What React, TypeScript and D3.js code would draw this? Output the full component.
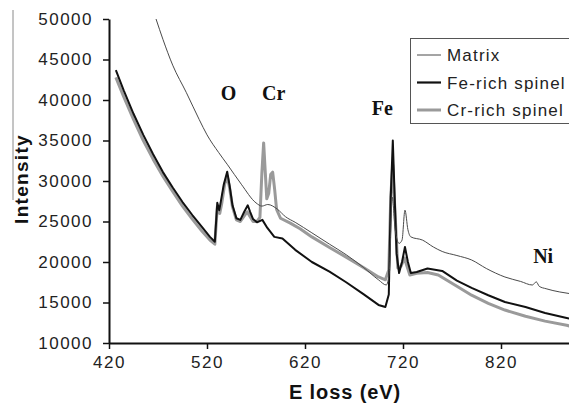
import React, { useEffect, useRef } from "react";
import * as d3 from "d3";

// [E loss (eV), intensity]
const matrix: [number, number][] = [
  [468, 50000], [475, 47500], [485, 44300], [499, 40900], [512, 37600],
  [520, 35700], [532, 33500], [541, 32000], [555, 29600], [570, 27300],
  [576, 26900], [582, 27100], [592, 26500], [600, 25600], [610, 24900],
  [627, 23600], [645, 22200], [662, 20900], [680, 19300], [695, 17800],
  [703, 17160], [706, 18800], [709, 28000], [712, 24000], [716, 22300],
  [719, 22700], [722, 26400], [725, 24000], [728, 23100], [740, 22700],
  [751, 21850], [760, 21300], [775, 20800], [790, 20250], [805, 19200],
  [824, 18150], [840, 17600], [852, 17160], [856, 17550], [859, 17000],
  [866, 16700], [880, 16300], [890, 16100],
];

const feRich: [number, number][] = [
  [427, 43700], [435, 41200], [445, 38300], [455, 35700], [465, 33300],
  [475, 31100], [485, 29200], [495, 27400], [505, 25800], [515, 24300],
  [523, 23100], [528, 22500], [530.5, 27300], [532.5, 26400], [534, 27400],
  [537, 29500], [540.6, 31150], [543, 29500], [546, 27000], [550, 25400],
  [554, 25200], [558, 26200], [561.6, 27000], [564, 26200], [567, 25300],
  [571, 24900], [576.5, 25200], [581.6, 24200], [588.7, 23100], [597, 22900],
  [610, 21500], [627, 20000], [645, 18800], [662, 17500], [680, 16000],
  [695, 14700], [702, 14440], [705.5, 16000], [707.5, 28000], [709.6, 35000],
  [711.5, 28000], [713.5, 21000], [716, 18640], [719, 20000], [722, 21850],
  [725, 20000], [728, 18640], [734, 18770], [745, 19200], [760, 18900],
  [775, 17700], [790, 16800], [807, 15900], [824, 15060], [845, 14440],
  [865, 13700], [887, 13090], [890, 13000],
];

const crRich: [number, number][] = [
  [427, 42800], [435, 40400], [445, 37600], [455, 35000], [465, 32700],
  [475, 30600], [485, 28700], [495, 26900], [505, 25300], [515, 23800],
  [523, 22700], [528, 22200], [530.5, 26800], [533, 26000], [535, 27200],
  [538, 29600], [540.6, 30600], [543, 29200], [546, 26800], [550, 25200],
  [554, 25000], [558, 25700], [561, 26200], [564, 25600], [567, 25000],
  [571, 25000], [574, 25500], [576, 31000], [577.8, 34700], [579.5, 31000],
  [581, 27800], [583, 28500], [585, 30800], [587, 31100], [589, 29000],
  [591, 26500], [595, 25400], [605, 24800], [615, 24100], [627, 23100],
  [645, 21800], [662, 20600], [680, 19300], [695, 18150], [702, 17800],
  [705.5, 19000], [707.5, 28000], [709.5, 32000], [711.5, 27000], [714.7, 19260],
  [718, 19500], [721.5, 20500], [724, 19500], [727, 18400], [734, 18600],
  [745, 18700], [756, 18400], [775, 17000], [790, 15900], [807, 14900],
  [824, 14070], [845, 13300], [865, 12700], [887, 12200], [890, 12100],
];

const xTicks = [420, 520, 620, 720, 820];
const yTicks = [10000, 15000, 20000, 25000, 30000, 35000, 40000, 45000, 50000];

const legendItems = [
  { label: "Matrix", color: "#4a4a4a", width: 1 },
  { label: "Fe-rich spinel", color: "#111", width: 2.2 },
  { label: "Cr-rich spinel", color: "#9a9a9a", width: 3 },
];

const peakLabels = [
  { text: "O", e: 542, i: 40000 },
  { text: "Cr", e: 588, i: 40000 },
  { text: "Fe", e: 699, i: 38150 },
  { text: "Ni", e: 863, i: 19900 },
];

export default function App() {
  const ref = useRef<SVGSVGElement>(null);

  useEffect(() => {
    const svg = d3.select(ref.current);
    svg.selectAll("*").remove();

    const width = 569;
    const height = 403;
    const left = 109;
    const top = 19;
    const bottom = 343;

    const x = d3.scaleLinear().domain([420, 890]).range([left, left + 470 * 0.98]);
    const y = d3.scaleLinear().domain([10000, 50000]).range([bottom, top]);

    svg.append("rect").attr("width", width).attr("height", height).attr("fill", "#fff");

    // stray border line at the left edge of the scan
    svg.append("line")
      .attr("x1", 13).attr("x2", 13).attr("y1", 10).attr("y2", 200)
      .attr("stroke", "#8a8a8a").attr("stroke-width", 1);

    svg.append("clipPath").attr("id", "plotclip")
      .append("rect").attr("x", left).attr("y", 0).attr("width", width - left).attr("height", bottom);

    const line = d3.line<[number, number]>()
      .x((d) => x(d[0]))
      .y((d) => y(d[1]));

    const plot = svg.append("g").attr("clip-path", "url(#plotclip)");
    plot.append("path").datum(crRich).attr("d", line)
      .attr("fill", "none").attr("stroke", "#9a9a9a").attr("stroke-width", 3)
      .attr("stroke-linejoin", "round");
    plot.append("path").datum(feRich).attr("d", line)
      .attr("fill", "none").attr("stroke", "#111").attr("stroke-width", 2)
      .attr("stroke-linejoin", "round");
    plot.append("path").datum(matrix).attr("d", line.curve(d3.curveMonotoneX))
      .attr("fill", "none").attr("stroke", "#4a4a4a").attr("stroke-width", 1)
      .attr("stroke-linejoin", "round");

    const tickFont = "'Liberation Sans', Arial, sans-serif";

    // x axis
    const gx = svg.append("g").attr("transform", `translate(0, ${bottom})`)
      .call(d3.axisBottom(x).tickValues(xTicks).tickSize(6).tickPadding(7).tickSizeOuter(0));
    gx.select(".domain").attr("stroke", "#111").attr("stroke-width", 2);
    gx.selectAll(".tick line").attr("stroke", "#111").attr("stroke-width", 1.5);
    gx.selectAll("text")
      .attr("font-family", tickFont).attr("font-size", 17)
      .attr("letter-spacing", 1.5).attr("fill", "#222");

    // y axis
    const gy = svg.append("g").attr("transform", `translate(${left}, 0)`)
      .call(d3.axisLeft(y).tickValues(yTicks).tickFormat(d3.format("d")).tickSize(6).tickPadding(10).tickSizeOuter(0));
    gy.select(".domain").attr("stroke", "#111").attr("stroke-width", 2);
    gy.selectAll(".tick line").attr("stroke", "#111").attr("stroke-width", 1.5);
    gy.selectAll("text")
      .attr("font-family", tickFont).attr("font-size", 17)
      .attr("letter-spacing", 1.5).attr("fill", "#222");

    svg.append("text")
      .attr("x", 345).attr("y", 399)
      .attr("text-anchor", "middle")
      .attr("font-family", tickFont).attr("font-weight", "bold")
      .attr("font-size", 20).attr("letter-spacing", 0.9).attr("fill", "#111")
      .text("E loss (eV)");

    svg.append("text")
      .attr("transform", "translate(28, 179) rotate(-90)")
      .attr("text-anchor", "middle")
      .attr("font-family", tickFont).attr("font-weight", "bold")
      .attr("font-size", 19).attr("letter-spacing", 1.3).attr("fill", "#111")
      .text("Intensity");

    // peak labels
    svg.selectAll(".peak")
      .data(peakLabels)
      .enter()
      .append("text")
      .attr("x", (d) => x(d.e))
      .attr("y", (d) => y(d.i))
      .attr("text-anchor", "middle")
      .attr("font-family", "'Liberation Serif', 'Times New Roman', serif")
      .attr("font-weight", "bold").attr("font-size", 20).attr("fill", "#111")
      .text((d) => d.text);

    // legend
    const lg = svg.append("g");
    lg.append("rect")
      .attr("x", 410.5).attr("y", 38.5).attr("width", 170).attr("height", 85)
      .attr("fill", "#fff").attr("stroke", "#555").attr("stroke-width", 1);
    const rows = lg.selectAll(".row").data(legendItems).enter().append("g")
      .attr("transform", (_d, i) => `translate(0, ${55 + i * 27.5})`);
    rows.append("line")
      .attr("x1", 417).attr("x2", 441).attr("y1", 0).attr("y2", 0)
      .attr("stroke", (d) => d.color).attr("stroke-width", (d) => d.width);
    rows.append("text")
      .attr("x", 447).attr("y", 6)
      .attr("font-family", tickFont).attr("font-size", 17)
      .attr("letter-spacing", 1.2).attr("fill", "#222")
      .text((d) => d.label);
  }, []);

  return (
    <svg
      ref={ref}
      width={569}
      height={403}
      style={{ position: "absolute", left: 0, top: 0, display: "block" }}
    />
  );
}
